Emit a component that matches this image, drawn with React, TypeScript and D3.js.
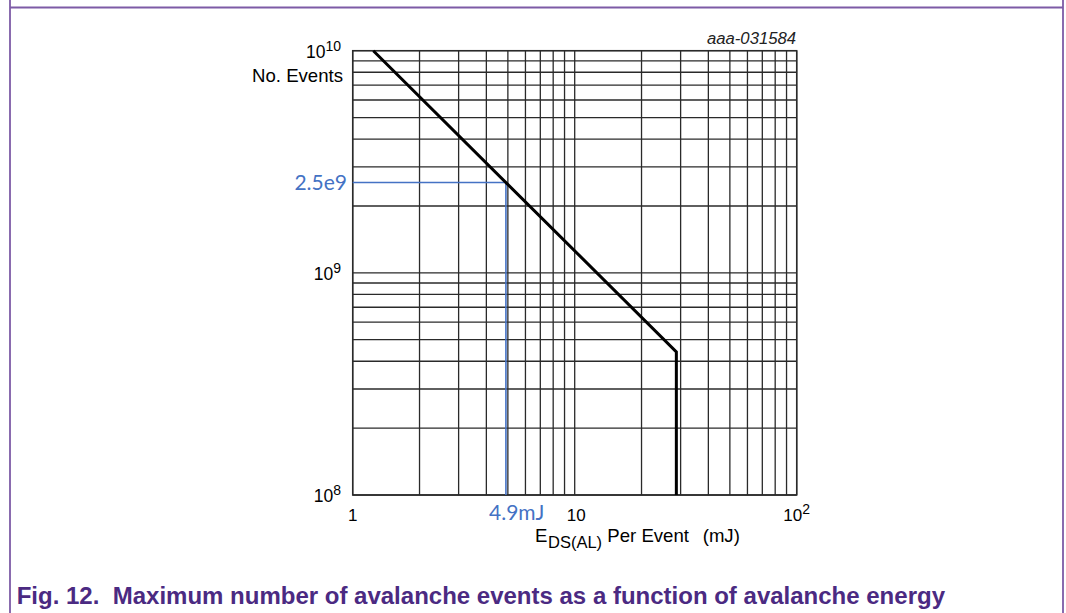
import * as d3 from "d3";

// avalanche curve: energy per event (mJ) vs max number of events
const curveEnergy = [1.238, 28.7, 28.7];
const curveEvents = [1e10, 4.41e8, 1e8];

// blue read-off guide
const guideEnergy = 4.9;
const guideEvents = 2.55e9;
const guideEnergyLabel = "4.9mJ";
const guideEventsLabel = "2.5e9";

const xTickValues = [1, 10, 100];
const xTickBase = ["1", "10", "10"];
const xTickSup = ["", "", "2"];

const yTickValues = [1e8, 1e9, 1e10];
const yTickSup = ["8", "9", "10"];

const W = 1066;
const H = 613;
const left = 352.7;
const right = 796.7;
const top = 50.7;
const bottom = 495;

const frameColor = "#7d5ba6";
const captionColor = "#4b2a82";
const blue = "#4472c4";
const gridColor = "#2a2a2a";
const arial = "'Liberation Sans', Arial, sans-serif";

export default function App() {
  const x = d3.scaleLog().domain([1, 100]).range([left, right]);
  const y = d3.scaleLog().domain([1e8, 1e10]).range([bottom, top]);

  const pts: [number, number][] = curveEnergy.map((e, i) => [e, curveEvents[i]]);
  const line = d3
    .line<[number, number]>()
    .x((d) => x(d[0]))
    .y((d) => y(d[1]));

  const gx = x(guideEnergy);
  const gy = y(guideEvents);

  return (
    <svg
      width={W}
      height={H}
      style={{ position: "absolute", left: 0, top: 0, background: "#fff" }}
      fontFamily={arial}
    >
      {/* page frame */}
      <line x1={10} x2={10} y1={0} y2={H} stroke={frameColor} strokeWidth={1.8} />
      <line x1={1063} x2={1063} y1={0} y2={H} stroke={frameColor} strokeWidth={1.8} />
      <line x1={10} x2={1063} y1={7.5} y2={7.5} stroke={frameColor} strokeWidth={2} />

      {/* grid */}
      {x.ticks().map((v) => (
        <line key={"gx" + v} x1={x(v)} x2={x(v)} y1={top} y2={bottom} stroke={gridColor} strokeWidth={1.3} />
      ))}
      {y.ticks().map((v) => (
        <line key={"gy" + v} x1={left} x2={right} y1={y(v)} y2={y(v)} stroke={gridColor} strokeWidth={1.3} />
      ))}
      <rect x={left} y={top} width={right - left} height={bottom - top} fill="none" stroke={gridColor} strokeWidth={1.5} />

      {/* guide */}
      <path
        d={`M${left},${gy}H${gx}V${bottom}`}
        fill="none"
        stroke={blue}
        strokeWidth={1.6}
      />

      {/* curve */}
      <path d={line(pts) || ""} fill="none" stroke="#000" strokeWidth={3} strokeLinejoin="miter" />

      {/* y tick labels */}
      {yTickValues.map((v, i) => (
        <text key={"yl" + v} x={341} y={y(v) + 7} textAnchor="end" fontSize={17.5} fill="#000">
          10
          <tspan fontSize={14} dy={-7}>
            {yTickSup[i]}
          </tspan>
        </text>
      ))}
      <text x={343} y={81.7} textAnchor="end" fontSize={18.6} fill="#000">
        No. Events
      </text>

      {/* x tick labels */}
      {xTickValues.map((v, i) => (
        <text key={"xl" + v} x={x(v) + (i === 1 ? 1.5 : 0)} y={521} textAnchor="middle" fontSize={17} fill="#000">
          {xTickBase[i]}
          {xTickSup[i] && (
            <tspan fontSize={14} dy={-7}>
              {xTickSup[i]}
            </tspan>
          )}
        </text>
      ))}

      {/* x axis title */}
      <text x={535} y={541.7} fontSize={18.6} fill="#000">E</text>
      <text x={548} y={548.3} fontSize={16.5} fill="#000">DS(AL)</text>
      <text x={607.3} y={541.7} fontSize={18.6} fill="#000">Per Event</text>
      <text x={702.7} y={541.7} fontSize={18.6} fill="#000">(mJ)</text>

      {/* guide labels */}
      <text x={347} y={190} textAnchor="end" fontFamily="Lato, sans-serif" fontSize={21} fill={blue}>
        {guideEventsLabel}
      </text>
      <text x={489} y={520} fontFamily="Lato, sans-serif" fontSize={21} fill={blue}>
        {guideEnergyLabel}
      </text>

      {/* figure id */}
      <text x={796} y={43.5} textAnchor="end" fontStyle="italic" fontSize={16} textLength={89} lengthAdjust="spacingAndGlyphs" fill="#222">
        aaa-031584
      </text>

      {/* caption */}
      <text x={16.7} y={604} fontSize={24} fontWeight="bold" fill={captionColor} style={{ whiteSpace: "pre" }}>
        {"Fig. 12.  Maximum number of avalanche events as a function of avalanche energy"}
      </text>
    </svg>
  );
}
